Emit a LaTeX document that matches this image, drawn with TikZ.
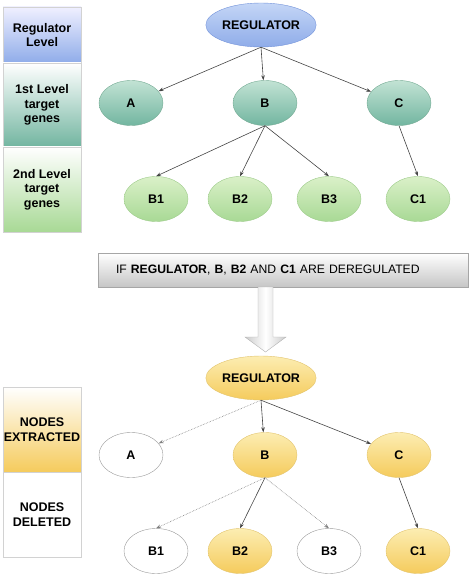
\documentclass[tikz,border=0pt]{standalone}
\usepackage{fontspec}
\setmainfont{Liberation Sans}
\usetikzlibrary{shapes.geometric,arrows.meta}

\definecolor{blueTop}{HTML}{C4D6F6}
\definecolor{blueBot}{HTML}{8FACE9}
\definecolor{blueLine}{HTML}{7393DA}
\definecolor{tealTop}{HTML}{C2E3D4}
\definecolor{tealBot}{HTML}{72B5A0}
\definecolor{tealLine}{HTML}{74AA93}
\definecolor{greenTop}{HTML}{DAF0C8}
\definecolor{greenBot}{HTML}{A8D995}
\definecolor{greenLine}{HTML}{9DCB8A}
\definecolor{yellowTop}{HTML}{FCEDB2}
\definecolor{yellowBot}{HTML}{F5CB5C}
\definecolor{yellowLine}{HTML}{E2C46E}
\definecolor{edgeGray}{HTML}{444444}

\begin{document}
\begin{tikzpicture}
  [x=1pt,y=-1pt,>={Stealth[length=5pt,width=3.5pt]},
   every node/.style={font=\fontsize{12.5}{14.5}\selectfont\bfseries,align=center},
   gene/.style={ellipse,draw,minimum width=64pt,minimum height=45pt,inner sep=0pt},
   master/.style={gene,minimum width=97pt,minimum height=44pt},
   regcol/.style={top color=blueTop,bottom color=blueBot,draw=blueLine},
   onecol/.style={top color=tealTop,bottom color=tealBot,draw=tealLine},
   twocol/.style={top color=greenTop,bottom color=greenBot,draw=greenLine},
   keepcol/.style={top color=yellowTop,bottom color=yellowBot,draw=yellowLine},
   dropcol/.style={fill=white,draw=gray!80},
   legend/.style={rectangle,draw=gray!35,minimum width=78pt,inner sep=0pt},
   kept/.style={->,draw=edgeGray,line width=.6pt},
   lost/.style={->,draw=gray,line width=.6pt,densely dotted}]
  \useasboundingbox (0,0) rectangle (472,577);

  % levels
  \node (lreg) [legend,minimum height=56pt,top color=blue!6,bottom color=blueBot] at (42,35) {Regulator\\Level};
  \node (lone) [legend,minimum height=84pt,top color=white,bottom color=tealBot] at (42,105) {1st Level\\target\\genes};
  \node (ltwo) [legend,minimum height=85pt,top color=white,bottom color=greenBot] at (42,189.5) {2nd Level\\target\\genes};
  \node (lkeep) [legend,minimum height=85pt,top color=white,bottom color=yellowBot] at (42,429.5) {NODES\\EXTRACTED};
  \node (ldrop) [legend,minimum height=85pt,fill=white] at (42,514.5) {NODES\\DELETED};

  % network
  \node (reg) [master,regcol] at (261,25) {REGULATOR};
  \node (a) [gene,onecol] at (131,103) {A};
  \node (b) [gene,onecol] at (265,103) {B};
  \node (c) [gene,onecol] at (399,103) {C};
  \node (bone) [gene,twocol] at (156,199) {B1};
  \node (btwo) [gene,twocol] at (240,199) {B2};
  \node (bthree) [gene,twocol] at (329,199) {B3};
  \node (cone) [gene,twocol] at (418,199) {C1};

  \foreach \to in {a,b,c}
    \draw[kept] (reg.south) -- (\to);
  \foreach \to in {bone,btwo,bthree}
    \draw[kept] (b.south) -- (\to.north);
  \draw[kept] (c.south) -- (cone.north);

  % condition
  \node (cond) [rectangle,draw=gray!70,top color=white,bottom color=gray!45,
    minimum height=34pt,text width=334pt,inner xsep=18pt,align=left,
    font=\fontsize{12.2}{14.5}\selectfont] at (283,270)
    {IF \textbf{REGULATOR}, \textbf{B}, \textbf{B2} AND \textbf{C1} ARE DEREGULATED};
  \shade[left color=gray!40,right color=gray!40,middle color=white,draw=gray!60]
    (258,287) -- (258,337) -- (245,337) -- (265.5,352) -- (286,337) -- (273,337) -- (273,287) -- cycle;

  % extracted network
  \node (xreg) [master,keepcol] at (261,378) {REGULATOR};
  \node (xa) [gene,dropcol] at (131,455) {A};
  \node (xb) [gene,keepcol] at (265,455) {B};
  \node (xc) [gene,keepcol] at (399,455) {C};
  \node (xbone) [gene,dropcol] at (156,551) {B1};
  \node (xbtwo) [gene,keepcol] at (240,551) {B2};
  \node (xbthree) [gene,dropcol] at (329,551) {B3};
  \node (xcone) [gene,keepcol] at (418,551) {C1};

  \foreach \to/\kind in {xa/lost,xb/kept,xc/kept}
    \draw[\kind] (xreg.south) -- (\to);
  \foreach \to/\kind in {xbone/lost,xbtwo/kept,xbthree/lost}
    \draw[\kind] (xb.south) -- (\to.north);
  \draw[kept] (xc.south) -- (xcone.north);

\end{tikzpicture}
\end{document}
